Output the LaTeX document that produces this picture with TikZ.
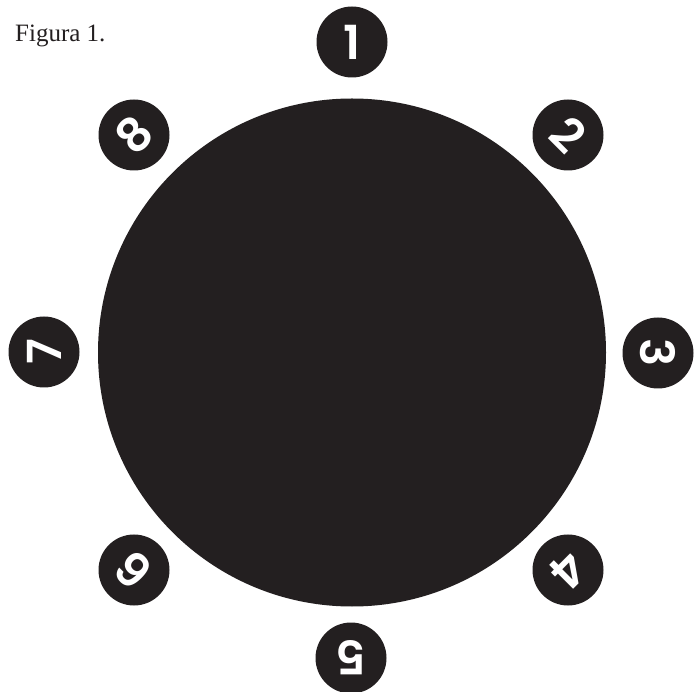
\documentclass[tikz,border=0pt]{standalone}
\usepackage{fontspec}
\setmainfont{Liberation Serif}
\newfontfamily\digitfont{Poppins}[UprightFont=* SemiBold]
\definecolor{ink}{HTML}{231F20}
\begin{document}
\begin{tikzpicture}[x=1pt,y=-1pt,
  badge/.style={circle,fill=ink,minimum size=71pt,inner sep=0pt},
  numlabel/.style={text=white,font=\digitfont\fontsize{47}{47}\selectfont,inner sep=0pt}]
\useasboundingbox (0,0) rectangle (694,692);
\node[anchor=base west,font=\fontsize{25}{25}\selectfont,text=ink,inner sep=0pt] (title) at (15,42) {Figura 1.};
\node[circle,fill=ink,minimum size=508pt,inner sep=0pt] (disk) at (352,352.5) {};
\foreach \k/\x/\y in {1/352/42,2/568/135,3/658/353,4/568/570,5/351/658,6/134/570,7/44/352,8/134/135}{
  \node[badge] (b\k) at (\x,\y) {};
  \pgfmathsetmacro{\ang}{-(\k-1)*45}
  \node[numlabel,rotate=\ang] (n\k) at (b\k.center) {\k};
}
\end{tikzpicture}
\end{document}
